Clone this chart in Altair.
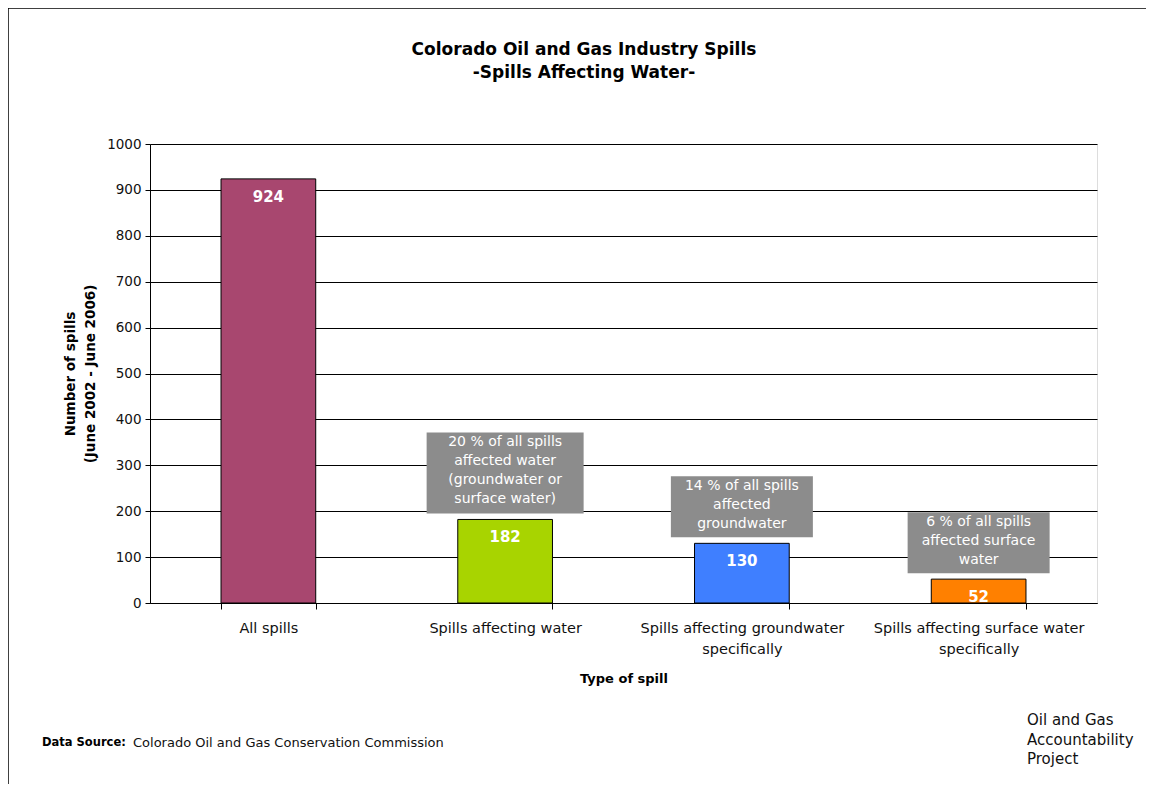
import altair as alt
import pandas as pd

categories = [
    "All spills",
    "Spills affecting water",
    "Spills affecting groundwater\nspecifically",
    "Spills affecting surface water\nspecifically",
]
counts = [924, 182, 130, 52]
bar_colors = ["#A8476F", "#A8D400", "#3F7FFF", "#FF8000"]
notes = [
    "",
    "20 % of all spills\naffected water\n(groundwater or\nsurface water)",
    "14 % of all spills\naffected\ngroundwater",
    "6 % of all spills\naffected surface\nwater",
]
note_lines = [0, 4, 3, 3]
y_ticks = list(range(0, 1001, 100))

title_lines = ["Colorado Oil and Gas Industry Spills", "-Spills Affecting Water-"]
y_title = ["Number of spills", "(June 2002 - June 2006)"]
x_title = "Type of spill"
source_label = "Data Source:"
source_text = "Colorado Oil and Gas Conservation Commission"
logo_text = "Oil and Gas\nAccountability\nProject"

FONT = "DejaVu Sans"
W, H = 947, 459

df = pd.DataFrame({
    "category": categories,
    "count": counts,
    "note": notes,
    "lines": note_lines,
})

x = alt.X(
    "category:N",
    sort=categories,
    scale=alt.Scale(paddingInner=0.6, paddingOuter=0.3),
    axis=alt.Axis(
        title=x_title,
        labelAngle=0,
        labelExpr="split(datum.label, '\\n')",
        labelFontSize=14.5,
        labelFont=FONT,
        labelColor="#111111",
        labelPadding=12,
        labelLimit=0,
        labelLineHeight=21,
        tickBand="extent",
        tickSize=6,
        tickColor="black",
        domainColor="black",
        grid=False,
        titleFont=FONT,
        titleFontSize=13,
        titleFontWeight="bold",
        titleColor="black",
        titlePadding=17,
    ),
)
y = alt.Y(
    "count:Q",
    scale=alt.Scale(domain=[0, 1000]),
    axis=alt.Axis(
        title=y_title,
        values=y_ticks,
        format="d",
        labelFontSize=13.5,
        labelFont=FONT,
        labelColor="#111111",
        labelPadding=4,
        tickSize=5,
        tickColor="black",
        domainColor="black",
        grid=True,
        gridColor="black",
        gridWidth=1,
        gridOpacity=1,
        titleFont=FONT,
        titleFontSize=13.5,
        titleFontWeight="bold",
        titleColor="black",
        titlePadding=9,
        titleLineHeight=20,
    ),
)

base = alt.Chart(df)

bars = base.mark_bar(stroke="black", strokeWidth=1).encode(
    x=x,
    y=y,
    color=alt.Color("category:N", scale=alt.Scale(domain=categories, range=bar_colors), legend=None),
)

bar_labels = base.mark_text(
    baseline="top", dy=11, color="white", fontWeight="bold", fontSize=15, font=FONT
).encode(x=x, y=y, text="count:Q")

box4 = base.transform_filter("datum.lines == 4").mark_bar(
    color="#8C8C8C", width=157, yOffset=-87, y2Offset=-6
).encode(x=x, y=y, y2="count:Q")
box3 = base.transform_filter("datum.lines == 3").mark_bar(
    color="#8C8C8C", width=142, yOffset=-67, y2Offset=-6
).encode(x=x, y=y, y2="count:Q")

note4 = base.transform_filter("datum.lines == 4").mark_text(
    lineBreak="\n", baseline="top", dy=-84, color="white", fontSize=14, font=FONT, lineHeight=19
).encode(x=x, y=y, text="note:N")
note3 = base.transform_filter("datum.lines == 3").mark_text(
    lineBreak="\n", baseline="top", dy=-64, color="white", fontSize=14, font=FONT, lineHeight=19
).encode(x=x, y=y, text="note:N")

one = pd.DataFrame({"a": [0]})
border_left = alt.Chart(one).mark_rule(color="black", strokeWidth=1.5).encode(
    x=alt.value(-142), y=alt.value(-136), y2=alt.value(H + 260)
)
border_top = alt.Chart(one).mark_rule(color="black", strokeWidth=1.5).encode(
    x=alt.value(-142), x2=alt.value(W + 160), y=alt.value(-136)
)

title_mark = alt.Chart(one).mark_text(
    align="center", baseline="middle", fontSize=17, fontWeight="bold", font=FONT, color="black",
    lineBreak="\n", lineHeight=23
).encode(x=alt.value(434), y=alt.value(-94), text=alt.value("\n".join(title_lines)))

src_bold = alt.Chart(one).mark_text(
    align="left", baseline="middle", fontSize=11.5, fontWeight="bold", font=FONT, color="black"
).encode(x=alt.value(-108), y=alt.value(599), text=alt.value(source_label))
src_text = alt.Chart(one).mark_text(
    align="left", baseline="middle", fontSize=13, font=FONT, color="#111111"
).encode(x=alt.value(-17), y=alt.value(599), text=alt.value(source_text))

logo = alt.Chart(one).mark_text(
    align="left", baseline="top", fontSize=15, font=FONT, color="#111111", lineBreak="\n", lineHeight=19.5
).encode(x=alt.value(877), y=alt.value(569), text=alt.value(logo_text))

chart = alt.layer(
    border_left, border_top, bars, box4, box3, note4, note3, bar_labels,
    title_mark, src_bold, src_text, logo
).properties(
    width=W,
    height=H,
    padding={"left": 142, "top": 136, "right": 49, "bottom": 181},
    autosize=alt.AutoSizeParams(type="none"),
).configure_view(
    fill="#C0C0C0", stroke="#808080", strokeWidth=1
).configure(background="white")

chart.save("out.html", embed_options={"renderer": "svg", "actions": False})
